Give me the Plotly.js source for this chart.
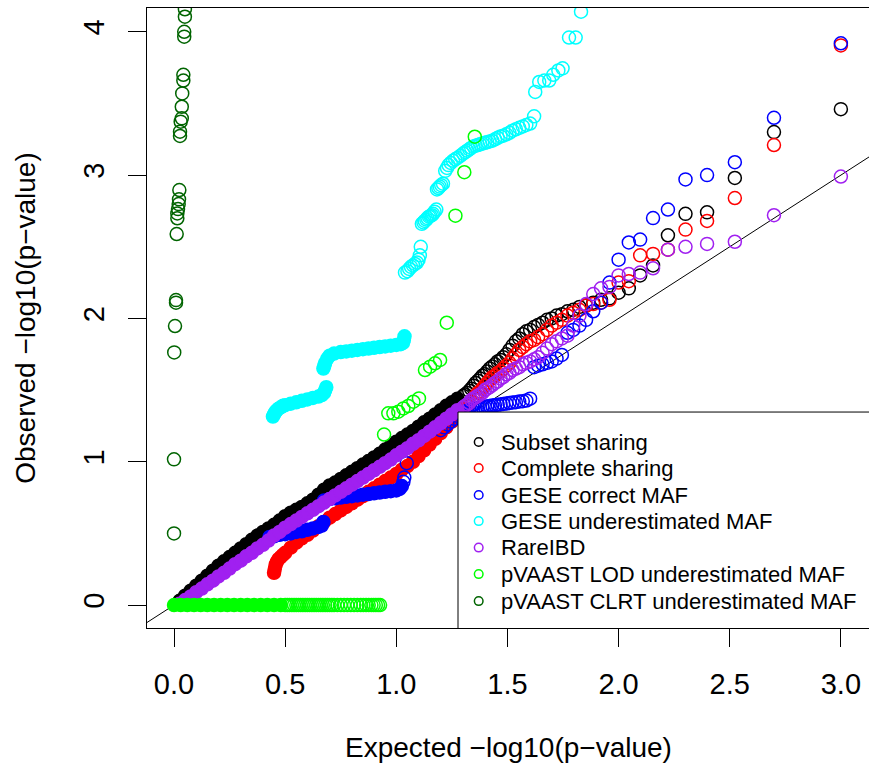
<!DOCTYPE html>
<html>
<head>
<meta charset="utf-8">
<script src="https://cdn.plot.ly/plotly-3.0.1.min.js"></script>
<style>
html,body{margin:0;padding:0;overflow:hidden;background:#fff;}
#chart{width:880px;height:768px;}
</style>
</head>
<body>
<div id="chart"></div>
<script>
// ---------------- DATA ----------------
const seriesNames = ["Subset sharing","Complete sharing","GESE correct MAF","GESE underestimated MAF","RareIBD","pVAAST LOD underestimated MAF","pVAAST CLRT underestimated MAF"];

// expected -log10(p) for the 50 smallest p-values (shared by all series)
const expectedTop = [3.000,2.699,2.523,2.398,2.301,2.222,2.155,2.097,2.046,2.000,1.959,1.921,1.886,1.854,1.824,1.796,1.770,1.745,1.721,1.699,1.678,1.658,1.638,1.620,1.602,1.585,1.569,1.553,1.538,1.523,1.509,1.495,1.481,1.469,1.456,1.444,1.432,1.420,1.409,1.398,1.387,1.377,1.367,1.357,1.347,1.337,1.328,1.319,1.310,1.301];
// expected -log10(p) sampled in the dense part
const expectedGrid = [0.025,0.05,0.075,0.1,0.125,0.15,0.175,0.2,0.225,0.25,0.275,0.3,0.325,0.35,0.375,0.4,0.425,0.45,0.475,0.5,0.525,0.55,0.575,0.6,0.625,0.65,0.675,0.7,0.725,0.75,0.775,0.8,0.825,0.85,0.875,0.9,0.925,0.95,0.975,1.0,1.025,1.05,1.075,1.1,1.125,1.15,1.175,1.2,1.225,1.25,1.275];

// Subset sharing
const subsetGridY = [0.03,0.065,0.1,0.135,0.17,0.205,0.24,0.275,0.305,0.335,0.365,0.395,0.425,0.455,0.485,0.51,0.535,0.56,0.59,0.62,0.645,0.665,0.685,0.71,0.735,0.77,0.805,0.835,0.855,0.88,0.905,0.93,0.955,0.98,1.005,1.03,1.055,1.085,1.11,1.14,1.165,1.19,1.215,1.245,1.275,1.30,1.33,1.36,1.39,1.415,1.44];
const subsetTopY = [3.46,3.30,2.98,2.74,2.73,2.58,2.37,2.30,2.21,2.18,2.14,2.13,2.11,2.09,2.08,2.06,2.05,2.03,2.02,2.00,1.99,1.97,1.955,1.94,1.92,1.91,1.89,1.86,1.84,1.81,1.78,1.75,1.73,1.71,1.70,1.68,1.665,1.65,1.63,1.61,1.60,1.58,1.565,1.55,1.53,1.51,1.495,1.48,1.47,1.46];

// Complete sharing
const completeDenseX = [0.450,0.453,0.457,0.462,0.47,0.48,0.49,0.5,0.525,0.55,0.575,0.6,0.625,0.65,0.675,0.7,0.725,0.75,0.775,0.8,0.825,0.85,0.875,0.9,0.925,0.95,0.975,1.0,1.025,1.05,1.075,1.1,1.125,1.15,1.175,1.2,1.225,1.25,1.275];
const completeDenseY = [0.225,0.25,0.28,0.30,0.32,0.335,0.35,0.365,0.40,0.435,0.465,0.49,0.52,0.55,0.58,0.61,0.635,0.66,0.685,0.71,0.735,0.76,0.79,0.815,0.84,0.865,0.89,0.915,0.945,0.97,1.0,1.04,1.08,1.12,1.16,1.2,1.24,1.28,1.32];
const completeTopY = [3.905,3.21,2.84,2.68,2.62,2.48,2.45,2.44,2.26,2.25,2.13,2.11,2.10,2.09,2.06,2.04,2.02,1.99,1.97,1.95,1.92,1.89,1.87,1.85,1.84,1.82,1.80,1.78,1.75,1.72,1.69,1.67,1.65,1.63,1.62,1.60,1.59,1.57,1.55,1.53,1.51,1.49,1.48,1.46,1.44,1.42,1.40,1.39,1.37,1.36];

// GESE correct MAF
const geseDenseX = [0.43,0.45,0.475,0.5,0.525,0.55,0.575,0.6,0.625,0.65,0.665,0.672,null,0.675,0.7,0.725,0.75,0.775,0.8,0.825,0.85,0.875,0.9,0.925,0.95,0.975,1.0,1.015,1.025];
const geseDenseY = [0.475,0.48,0.49,0.495,0.50,0.51,0.515,0.525,0.535,0.545,0.555,0.58,null,0.73,0.74,0.745,0.75,0.755,0.76,0.765,0.77,0.775,0.78,0.785,0.79,0.795,0.80,0.81,0.83];
const geseTopY = [3.92,3.40,3.09,3.00,2.97,2.76,2.70,2.55,2.53,2.41,2.25,2.11,2.05,1.99,1.95,1.92,1.90,1.745,1.72,1.70,1.69,1.68,1.67,1.66,1.44,1.427,1.423,1.42,1.416,1.413,1.41,1.406,1.403,1.40,1.398,1.395,1.392,1.389,1.386,1.383,1.38,1.378,1.375,1.372,1.37,1.365,1.36,1.355,1.35,1.345];
const geseExtraX = [1.29,1.275,1.26,1.245,1.23,1.215,1.20,1.032,1.036,1.047];
const geseExtraY = [1.335,1.32,1.30,1.28,1.26,1.24,1.22,0.86,0.89,0.99];

// GESE underestimated MAF
const geseUnderDenseX = [0.445,0.45,0.455,0.46,0.47,0.48,0.49,0.5,0.525,0.55,0.575,0.6,0.625,0.65,0.665,0.675,0.68,0.685,0.672,0.676,0.68,0.69,0.7,0.72,0.75,0.775,0.8,0.825,0.85,0.875,0.9,0.925,0.95,0.975,1.0,1.02,1.03,1.034,1.037];
const geseUnderDenseY = [1.315,1.33,1.345,1.355,1.37,1.38,1.39,1.395,1.405,1.415,1.425,1.435,1.445,1.455,1.465,1.48,1.50,1.52,1.65,1.67,1.69,1.72,1.74,1.755,1.765,1.77,1.775,1.78,1.785,1.79,1.795,1.80,1.805,1.81,1.815,1.82,1.83,1.85,1.875];
const geseUnderOpenX = [1.039,1.05,1.058,1.066,1.075,1.084,1.093,1.1,1.106,1.11,1.115,1.122,1.128,1.135,1.14,1.147,1.153,1.16,1.165,1.172,1.18,1.183,1.189,1.195,1.202,1.21,1.22,1.228,1.235,1.245,1.255,1.265,1.275,1.288,1.301,1.310,1.319,1.328,1.337,1.347,1.357,1.367,1.377,1.387,1.398,1.409,1.420,1.432,1.444,1.456,1.469,1.481,1.495,1.509,1.523,1.538,1.553,1.569,1.585,1.602,1.620,1.625,1.643,1.666,1.688,1.706,1.729,1.748,1.777,1.807,1.831];
const geseUnderOpenY = [2.32,2.33,2.345,2.36,2.37,2.38,2.39,2.41,2.44,2.50,2.66,2.67,2.68,2.69,2.70,2.71,2.715,2.72,2.73,2.745,2.76,2.90,2.91,2.92,2.93,2.94,3.03,3.05,3.07,3.085,3.10,3.11,3.12,3.135,3.15,3.16,3.17,3.18,3.19,3.20,3.205,3.21,3.215,3.22,3.225,3.23,3.235,3.24,3.25,3.26,3.27,3.275,3.285,3.295,3.31,3.32,3.33,3.34,3.35,3.36,3.41,3.58,3.65,3.66,3.66,3.70,3.73,3.745,3.96,3.96,4.14];

// RareIBD
const rareGridY = [0.01,0.035,0.06,0.09,0.115,0.145,0.17,0.2,0.225,0.255,0.285,0.31,0.34,0.365,0.395,0.42,0.45,0.485,0.51,0.54,0.565,0.59,0.615,0.64,0.665,0.69,0.715,0.74,0.765,0.79,0.815,0.84,0.865,0.89,0.915,0.94,0.965,0.99,1.015,1.045,1.07,1.095,1.125,1.15,1.18,1.21,1.24,1.27,1.30,1.33,1.36];
const rareTopY = [2.99,2.72,2.535,2.52,2.50,2.48,2.35,2.32,2.31,2.30,2.22,2.21,2.17,2.10,2.02,1.95,1.88,1.86,1.84,1.82,1.79,1.76,1.73,1.715,1.70,1.69,1.68,1.66,1.65,1.64,1.62,1.61,1.59,1.58,1.56,1.55,1.535,1.52,1.51,1.50,1.48,1.47,1.46,1.45,1.44,1.43,1.41,1.40,1.39,1.38];

// pVAAST LOD underestimated MAF
const lodZeroDenseX = [0,0.03,0.06,0.09,0.12,0.15,0.18,0.21,0.24,0.27,0.30,0.33,0.36,0.39,0.42,0.45,0.48];
const lodZeroDenseY = [0,0,0,0,0,0,0,0,0,0,0,0,0,0,0,0,0];
const lodOpenX = [0.50,0.51,0.52,0.53,0.54,0.55,0.56,0.57,0.58,0.59,0.60,0.61,0.62,0.63,0.64,0.65,0.66,0.67,0.68,0.69,0.70,0.71,0.72,0.735,0.75,0.765,0.78,0.795,0.81,0.825,0.84,0.852,0.864,0.876,0.888,0.898,0.908,0.918,0.927,0.945,0.964,0.987,1.009,1.032,1.054,1.077,1.102,1.129,1.152,1.174,1.197,1.227,1.266,1.306,1.353];
const lodOpenY = [0,0,0,0,0,0,0,0,0,0,0,0,0,0,0,0,0,0,0,0,0,0,0,0,0,0,0,0,0,0,0,0,0,0,0,0,0,0,0,1.19,1.338,1.338,1.349,1.372,1.389,1.419,1.442,1.64,1.663,1.687,1.71,1.97,2.717,3.02,3.268];

// pVAAST CLRT underestimated MAF
const clrtX = [0.049,0.049,0.046,0.046,0.042,0.042,0.037,0.035,0.035,0.030,0.027,0.027,0.024,0.0225,0.021,0.018,0.015,0.015,0.012,0.009,0.009,0.0045,0.001,0,0];
const clrtY = [4.157,4.105,4.0,3.966,3.70,3.66,3.57,3.477,3.396,3.373,3.303,3.273,2.896,2.831,2.798,2.763,2.733,2.699,2.589,2.128,2.11,1.947,1.763,1.017,0.50];

// ---------------- STYLE ----------------
const colors = ["#000000","#FF0000","#0000FF","#00FFFF","#A020F0","#00FF00","#006400"];
const FONT = "'Liberation Sans', Arial, Helvetica, sans-serif";
const MS = 13, LW = 1.5;

function openTrace(x, y, c){
  return {type:'scatter', mode:'markers', x:x, y:y, hoverinfo:'skip',
    marker:{symbol:'circle-open', size:MS, color:c, line:{width:LW, color:c}}};
}
function denseTrace(x, y, c){
  return {type:'scatter', mode:'markers', x:x, y:y, hoverinfo:'skip',
    marker:{symbol:'circle', size:MS, color:c, line:{width:LW, color:c}}};
}

const traces = [
  {type:'scatter', mode:'lines', x:[-0.5,3.5], y:[-0.5,3.5], line:{color:'#000', width:1}, hoverinfo:'skip'},
  denseTrace(expectedGrid, subsetGridY, colors[0]),
  openTrace(expectedTop, subsetTopY, colors[0]),
  denseTrace(completeDenseX, completeDenseY, colors[1]),
  openTrace(expectedTop, completeTopY, colors[1]),
  denseTrace(geseDenseX, geseDenseY, colors[2]),
  openTrace(expectedTop.concat(geseExtraX), geseTopY.concat(geseExtraY), colors[2]),
  denseTrace(geseUnderDenseX, geseUnderDenseY, colors[3]),
  openTrace(geseUnderOpenX, geseUnderOpenY, colors[3]),
  denseTrace(expectedGrid, rareGridY, colors[4]),
  openTrace(expectedTop, rareTopY, colors[4]),
  denseTrace(lodZeroDenseX, lodZeroDenseY, colors[5]),
  openTrace(lodOpenX, lodOpenY, colors[5]),
  openTrace(clrtX, clrtY, colors[6])
];

// pixel helpers for the legend box (plot: x 0 at 174px, 222.3px/unit; y 0 at 605px, 143.3px/unit)
const px2x = p => (p - 174) / 222.3;
const py2y = p => (605 - p) / 143.3;

const shapes = [{type:'rect', xref:'x', yref:'y', x0:px2x(458), x1:3.6, y0:-0.6, y1:py2y(412),
  fillcolor:'#ffffff', line:{color:'#000', width:1}, layer:'above'}];
const annotations = [];
const rowY = [442, 468, 495, 521, 547.5, 574, 601];
seriesNames.forEach((name, i) => {
  const cx = 478.7, cy = rowY[i], r = 4.3;
  shapes.push({type:'circle', xref:'x', yref:'y', x0:px2x(cx - r), x1:px2x(cx + r), y0:py2y(cy + r), y1:py2y(cy - r),
    line:{color:colors[i], width:1.5}, fillcolor:'rgba(0,0,0,0)', layer:'above'});
  annotations.push({xref:'x', yref:'y', x:px2x(499), y:py2y(cy), text:name, showarrow:false,
    xanchor:'left', yanchor:'middle', font:{family:FONT, size:22, color:'#000'}});
});

const axisCommon = {
  showgrid:false, zeroline:false, showline:true, linecolor:'#000', linewidth:1, mirror:true,
  ticks:'outside', ticklen:18, tickwidth:1, tickcolor:'#000', automargin:false,
  tickfont:{family:FONT, size:29, color:'#000'}
};

const layout = {
  width:880, height:768,
  margin:{l:147, r:10, t:8, b:140, pad:0},
  paper_bgcolor:'#fff', plot_bgcolor:'#fff',
  showlegend:false,
  font:{family:FONT, color:'#000'},
  xaxis:Object.assign({}, axisCommon, {
    range:[-0.1215, 3.131],
    tickvals:[0,0.5,1,1.5,2,2.5,3], ticktext:['0.0','0.5','1.0','1.5','2.0','2.5','3.0'],
    ticklabelstandoff:12,
    title:{text:'Expected \u2212log10(p\u2212value)', font:{family:FONT, size:28, color:'#000'}, standoff:38}
  }),
  yaxis:Object.assign({}, axisCommon, {
    range:[-0.16, 4.166],
    tickvals:[0,1,2,3,4], ticktext:['0','1','2','3','4'],
    tickangle:-90, ticklabelstandoff:12,
    title:{text:'Observed \u2212log10(p\u2212value)', font:{family:FONT, size:28, color:'#000'}, standoff:34}
  }),
  shapes:shapes,
  annotations:annotations
};

Plotly.newPlot('chart', traces, layout, {displayModeBar:false, staticPlot:true});
</script>
</body>
</html>
